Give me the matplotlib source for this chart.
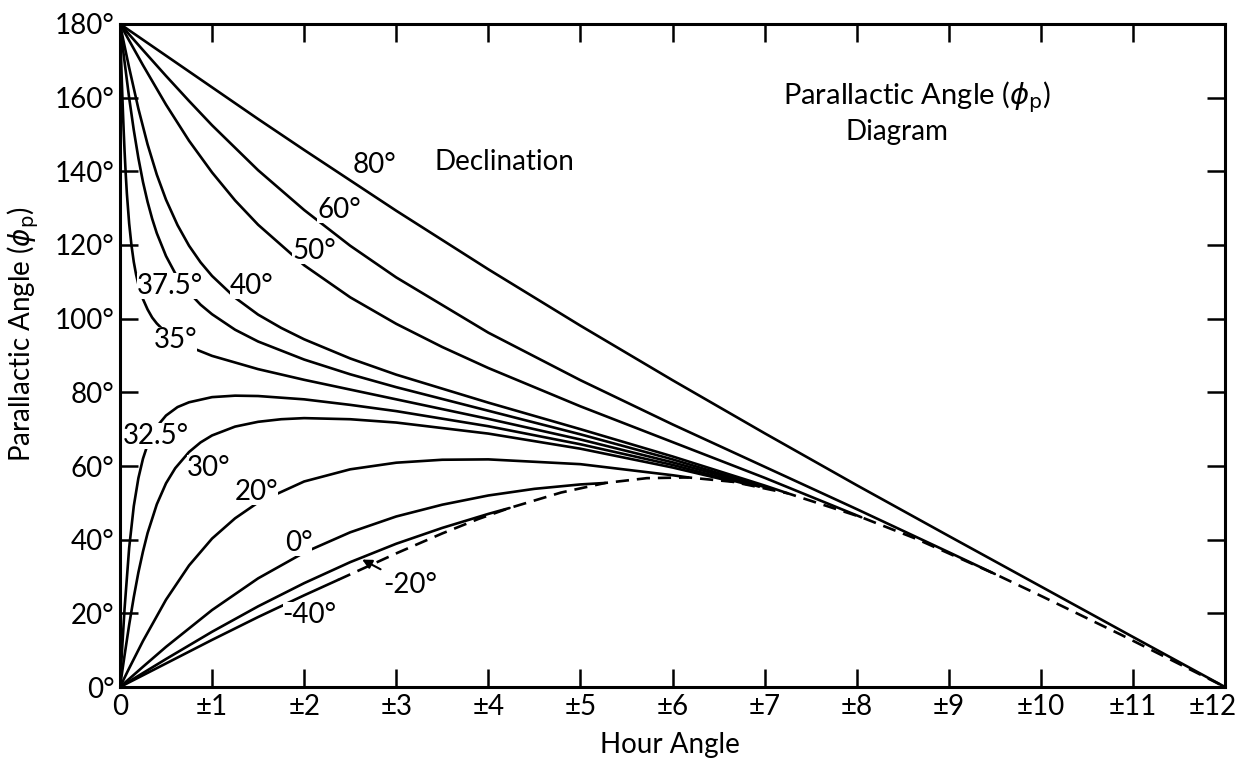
import matplotlib
matplotlib.use('Agg')
import matplotlib.pyplot as plt
import matplotlib.transforms as mtransforms

# hour angle (h) and parallactic angle (deg), per declination
dec_80_h = [0, 0.5, 1, 1.5, 2, 3, 4, 5, 6, 7, 8, 9, 10, 11, 12]
dec_80_q = [180, 171.4, 162.8, 154.2, 145.8, 129.3, 113.4, 98.1, 83.3, 68.9, 54.8, 41.0, 27.3, 13.6, 0]

dec_60_h = [0, 0.25, 0.5, 0.75, 1, 1.5, 2, 2.5, 3, 4, 5, 6, 7, 8, 9, 9.5]
dec_60_q = [180, 172.9, 165.9, 159.1, 152.5, 140.3, 129.5, 119.8, 111.2, 96.2, 83.3, 71.3, 59.8, 48.3, 36.6, 30.7]

dec_50_h = [0, 0.1, 0.25, 0.5, 0.75, 1, 1.25, 1.5, 2, 2.5, 3, 3.5, 4, 5, 6, 7, 8.05]
dec_50_q = [180, 175.5, 168.8, 158.1, 148.3, 139.7, 132.1, 125.5, 114.5, 105.8, 98.6, 92.3, 86.6, 76.2, 66.5, 56.8, 46.1]

dec_40_h = [0, 0.05, 0.1, 0.2, 0.3, 0.4, 0.5, 0.625, 0.75, 0.875, 1, 1.25, 1.5, 1.75, 2, 2.5, 3, 4, 5, 6, 7, 7.25]
dec_40_q = [180, 174.0, 168.1, 157.0, 147.3, 139.1, 132.3, 125.4, 119.8, 115.3, 111.6, 105.7, 101.1, 97.5,
            94.4, 89.2, 84.8, 77.2, 70.0, 62.6, 54.7, 52.6]

dec_375_h = [0, 0.02, 0.05, 0.1, 0.15, 0.2, 0.25, 0.3, 0.35, 0.4, 0.5, 0.6, 0.75, 0.875, 1, 1.25, 1.5,
             2, 2.5, 3, 4, 5, 6, 7, 7.09]
dec_375_q = [180, 175.8, 169.7, 159.9, 151.2, 143.6, 137.1, 131.7, 127.1, 123.2, 117.0, 112.3, 107.1,
             103.8, 101.2, 97.0, 93.8, 88.9, 84.9, 81.4, 75.0, 68.6, 61.8, 54.3, 53.6]

dec_35_h = [0, 0.005, 0.01, 0.02, 0.03, 0.04, 0.05, 0.0625, 0.075, 0.1, 0.125, 0.15, 0.175, 0.2, 0.25,
            0.3, 0.35, 0.4, 0.5, 0.625, 0.75, 1, 1.5, 2, 3, 4, 5, 6, 6.5, 6.94]
dec_35_q = [180, 176.1, 172.2, 164.7, 157.6, 151.2, 145.5, 139.3, 134.0, 125.8, 119.9, 115.4, 112.0,
            109.3, 105.3, 102.5, 100.3, 98.7, 96.2, 94.0, 92.4, 89.9, 86.3, 83.4, 78.1, 72.8, 67.2,
            61.0, 57.6, 54.4]

dec_325_h = [0, 0.02, 0.05, 0.1, 0.15, 0.2, 0.25, 0.3, 0.35, 0.4, 0.5, 0.625, 0.75, 1, 1.25, 1.5, 2,
             2.5, 3, 4, 5, 6, 6.8]
dec_325_q = [0, 8.9, 21.3, 37.8, 49.1, 56.7, 62.0, 65.8, 68.6, 70.7, 73.7, 76.0, 77.3, 78.7, 79.1, 79.0,
             78.1, 76.6, 74.9, 70.8, 65.9, 60.3, 55.1]

dec_30_h = [0, 0.05, 0.1, 0.15, 0.2, 0.25, 0.3, 0.4, 0.5, 0.6, 0.75, 0.875, 1, 1.25, 1.5, 1.75, 2, 2.5,
            3, 4, 5, 6, 6.66]
dec_30_q = [0, 8.6, 16.9, 24.4, 31.1, 36.8, 41.8, 49.6, 55.3, 59.4, 63.8, 66.4, 68.3, 70.7, 72.0, 72.7,
            73.0, 72.7, 71.8, 68.8, 64.7, 59.6, 55.7]

dec_20_h = [0, 0.1, 0.25, 0.5, 0.75, 1, 1.25, 1.5, 2, 2.5, 3, 3.5, 4, 5, 6, 6.17]
dec_20_q = [0, 5.1, 12.5, 23.7, 33.0, 40.3, 45.8, 50.1, 55.8, 59.1, 60.9, 61.7, 61.8, 60.5, 57.5, 56.9]

dec_0_h = [0, 0.25, 0.5, 1, 1.5, 2, 2.5, 3, 3.5, 4, 4.5, 5, 5.27]
dec_0_q = [0, 5.5, 10.9, 20.9, 29.5, 36.5, 42.0, 46.3, 49.5, 52.0, 53.8, 55.0, 55.4]

dec_m20_h = [0, 0.5, 1, 1.5, 2, 2.5, 3, 3.5, 4, 4.23]
dec_m20_q = [0, 7.6, 15.0, 21.9, 28.2, 33.9, 38.9, 43.2, 47.0, 48.6]

dec_m40_h = [0, 0.5, 1, 1.5, 2, 2.37]
dec_m40_q = [0, 6.4, 12.8, 19.0, 24.9, 29.1]

# dashed line: where the sources reach the elevation limit
limit_h = [2.37, 3.02, 3.50, 3.89, 4.23, 4.79, 5.27, 5.72, 6.17, 6.66, 7.25, 8.05, 8.64, 9.50, 10.03,
           10.87, 11.77, 12]
limit_q = [29.1, 36.5, 41.7, 45.6, 48.6, 52.8, 55.4, 56.7, 56.9, 55.7, 52.6, 46.1, 40.3, 30.7, 24.4,
           14.2, 2.9, 0]

hour_ticks = list(range(13))
hour_labels = ['0'] + ['±%d' % h for h in range(1, 13)]
angle_ticks = list(range(0, 181, 20))
angle_labels = ['%d°' % a for a in angle_ticks]

curves = [
    (dec_80_h, dec_80_q, '80°', 2.76, 141.6),
    (dec_60_h, dec_60_q, '60°', 2.38, 129.6),
    (dec_50_h, dec_50_q, '50°', 2.11, 118.4),
    (dec_40_h, dec_40_q, '40°', 1.43, 108.9),
    (dec_375_h, dec_375_q, '37.5°', 0.54, 108.9),
    (dec_35_h, dec_35_q, '35°', 0.60, 94.2),
    (dec_325_h, dec_325_q, '32.5°', 0.39, 68.1),
    (dec_30_h, dec_30_q, '30°', 0.96, 59.5),
    (dec_20_h, dec_20_q, '20°', 1.48, 52.9),
    (dec_0_h, dec_0_q, '0°', 1.94, 39.1),
    (dec_m20_h, dec_m20_q, None, 0, 0),
    (dec_m40_h, dec_m40_q, '-40°', 2.06, 19.6),
]

plt.rcParams['font.family'] = ['Lato', 'DejaVu Sans']
plt.rcParams['mathtext.fontset'] = 'dejavusans'

fig = plt.figure(figsize=(12.47, 7.61), dpi=100)
ax = fig.add_axes([0.0962, 0.0972, 0.8862, 0.8713])

for hours, angles, label, lx, ly in curves:
    ax.plot(hours, angles, color='black', lw=1.9, solid_capstyle='round', solid_joinstyle='round')
    if label:
        ax.text(lx, ly, label, fontsize=20, ha='center', va='center',
                bbox=dict(facecolor='white', edgecolor='none', pad=0))

ax.plot(limit_h, limit_q, color='black', lw=1.9, linestyle=(0, (5, 3)))

ax.annotate('-20°', xy=(2.63, 34.6), xytext=(2.86, 27.7), fontsize=20,
            ha='left', va='center',
            arrowprops=dict(arrowstyle='-|>', color='black', lw=1.5,
                            mutation_scale=14, shrinkA=0, shrinkB=0))

ax.text(4.17, 142.5, 'Declination', fontsize=20, ha='center', va='center')
ax.text(8.65, 160.2, r'Parallactic Angle ($\phi_{\rm p}$)', fontsize=21,
        ha='center', va='center')
ax.text(8.44, 150.7, 'Diagram', fontsize=20, ha='center', va='center')

ax.set_xlim(0, 12)
ax.set_ylim(0, 180)
ax.set_xticks(hour_ticks)
ax.set_xticklabels(hour_labels)
ax.set_yticks(angle_ticks)
ax.set_yticklabels(angle_labels)
ax.tick_params(direction='in', length=13, width=1.8, labelsize=20,
               top=True, right=True)
ax.tick_params(axis='x', pad=5)
ax.tick_params(axis='y', pad=4)
for s in ax.spines.values():
    s.set_linewidth(2.2)

# the last hour label sits a little left of its tick, as in the original
shift = mtransforms.ScaledTranslation(-0.12, 0, fig.dpi_scale_trans)
last = ax.get_xticklabels()[-1]
last.set_transform(last.get_transform() + shift)

ax.set_xlabel('Hour Angle', fontsize=20)
ax.set_ylabel(r'Parallactic Angle ($\phi_{\rm p}$)', fontsize=20)
ax.xaxis.set_label_coords(0.498, -0.068)
ax.yaxis.set_label_coords(-0.071, 0.532)

fig.savefig('out.png', dpi=100)
